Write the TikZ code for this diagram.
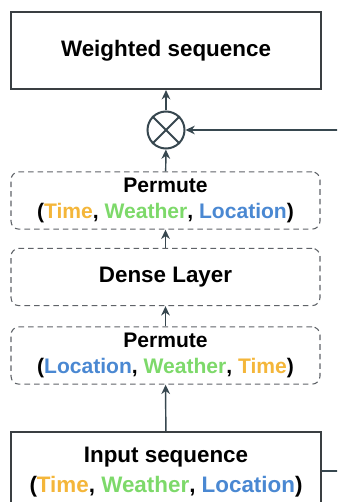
\documentclass[tikz,border=0pt]{standalone}
\usepackage{fontspec}
\setmainfont{Liberation Sans}
\usetikzlibrary{arrows.meta}

\definecolor{linec}{HTML}{37474F}
\definecolor{boxc}{HTML}{3A3F42}
\definecolor{dashc}{HTML}{5F6368}
\definecolor{timec}{HTML}{F4B63A}
\definecolor{weatherc}{HTML}{7DD96A}
\definecolor{locc}{HTML}{4A88D2}

\newcommand{\tm}{\textcolor{timec}{Time}}
\newcommand{\wt}{\textcolor{weatherc}{Weather}}
\newcommand{\loc}{\textcolor{locc}{Location}}

\tikzset{
	solidbox/.style={draw=boxc, line width=1.6pt, minimum width=232.5pt, align=center, font=\fontsize{16.8}{22}\selectfont\bfseries},
	dashbox/.style={draw=dashc, dash pattern=on 4.2pt off 3pt, line width=0.8pt, rounded corners=6pt, minimum width=231.75pt, minimum height=43pt, align=center, font=\fontsize{15.8}{19.5}\selectfont\bfseries},
	flow/.style={draw=linec, line width=1.1pt, -{Stealth[length=7pt,width=6.5pt]}},
}

\begin{document}
\begin{tikzpicture}[x=0.75pt, y=-0.75pt]
			%%%%% START %%%%%
			\clip (0, 0) rectangle (337, 502);
			
			\node[solidbox, minimum height=57.75pt] (weighted) at (166, 50.5) {Weighted sequence};
			
			\node[draw=linec, line width=1.5pt, circle, minimum size=27.75pt, inner sep=0pt] (mult) at (166, 130) {};
			\draw[linec, line width=1.5pt] (mult.45) -- (mult.225);
			\draw[linec, line width=1.5pt] (mult.135) -- (mult.-45);
			
			\node[dashbox] (permtop) at (165.5, 200.5) {Permute\\(\tm, \wt, \loc)};
			\node[dashbox] (dense) at (165.5, 277) {\fontsize{16.8}{20}\selectfont Dense Layer};
			\node[dashbox] (permbot) at (165.5, 355.5) {Permute\\(\loc, \wt, \tm)};
			
			\node[solidbox, minimum height=60pt, font=\fontsize{16.8}{23}\selectfont\bfseries] (input) at (166, 472) {Input sequence\\(\tm, \wt, \loc)};
			
			\coordinate (sidein) at (340, 130);
			\coordinate (sideout) at (340, 471);
			
			\draw[flow] (input) -- (permbot);
			\draw[flow] (permbot) -- (dense);
			\draw[flow] (dense) -- (permtop);
			\draw[flow] (permtop) -- (mult);
			\draw[flow] (mult) -- (weighted);
			\draw[flow] (sidein) -- (mult);
			\draw[linec, line width=1.1pt] (input.east |- sideout) -- (sideout);
			
			%%%%% END %%%%%
		\end{tikzpicture}
\end{document}
